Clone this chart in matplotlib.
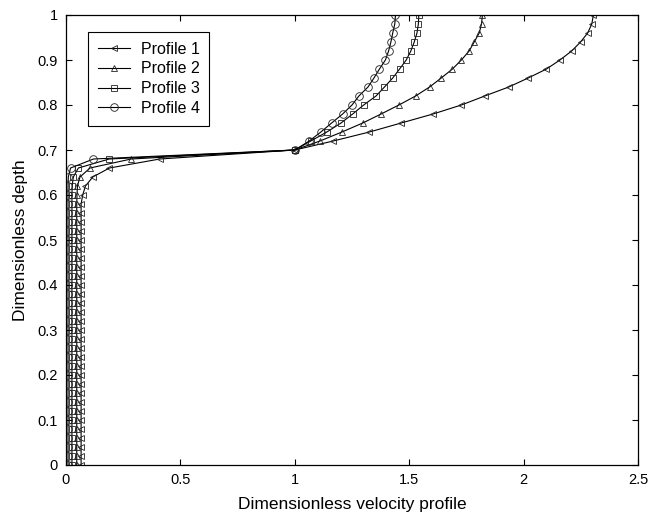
import numpy as np
import matplotlib
matplotlib.use("Agg")
from matplotlib import pyplot as plt

plt.rcParams['font.family'] = ['Liberation Sans', 'DejaVu Sans']

# depth grid, 0 to 1 in steps of 0.02
depth = [0.00, 0.02, 0.04, 0.06, 0.08, 0.10, 0.12, 0.14, 0.16, 0.18,
         0.20, 0.22, 0.24, 0.26, 0.28, 0.30, 0.32, 0.34, 0.36, 0.38,
         0.40, 0.42, 0.44, 0.46, 0.48, 0.50, 0.52, 0.54, 0.56, 0.58,
         0.60, 0.62, 0.64, 0.66, 0.68, 0.70,
         0.72, 0.74, 0.76, 0.78, 0.80, 0.82, 0.84, 0.86, 0.88, 0.90,
         0.92, 0.94, 0.96, 0.98, 1.00]

profile_1 = [0.066] * 30 + [0.073, 0.085, 0.117, 0.19, 0.41, 1.0,
             1.168, 1.326, 1.465, 1.604, 1.728, 1.83, 1.935, 2.02, 2.10,
             2.159, 2.21, 2.249, 2.28, 2.298, 2.305]
profile_2 = [0.047] * 30 + [0.048, 0.05, 0.061, 0.105, 0.285, 1.0,
             1.11, 1.206, 1.297, 1.377, 1.455, 1.528, 1.589, 1.64, 1.689,
             1.728, 1.762, 1.784, 1.806, 1.816, 1.82]
profile_3 = [0.026] * 30 + [0.026, 0.027, 0.032, 0.054, 0.189, 1.0,
             1.07, 1.14, 1.202, 1.253, 1.301, 1.355, 1.392, 1.428, 1.458,
             1.487, 1.507, 1.522, 1.534, 1.54, 1.542]
profile_4 = [0.009] * 30 + [0.009, 0.009, 0.01, 0.02, 0.12, 1.0,
             1.063, 1.114, 1.161, 1.209, 1.25, 1.28, 1.32, 1.346, 1.37,
             1.396, 1.41, 1.42, 1.428, 1.437, 1.44]

labels = ["Profile 1", "Profile 2", "Profile 3", "Profile 4"]
markers = ["<", "^", "s", "o"]
msizes = [4, 4, 5, 5.5]

x_ticks = [0, 0.5, 1, 1.5, 2, 2.5]
x_ticklabels = ["0", "0.5", "1", "1.5", "2", "2.5"]
y_ticks = [0, 0.1, 0.2, 0.3, 0.4, 0.5, 0.6, 0.7, 0.8, 0.9, 1]
y_ticklabels = ["0", "0.1", "0.2", "0.3", "0.4", "0.5", "0.6", "0.7", "0.8", "0.9", "1"]

fig = plt.figure(figsize=(6.61, 5.16), dpi=100)
ax = fig.add_axes([66/661, 1 - 465/516, 572/661, 450/516])

for xs, lab, mk, ms in zip([profile_1, profile_2, profile_3, profile_4], labels, markers, msizes):
	ax.plot(xs, depth, color="black", lw=0.8, marker=mk, markersize=ms,
		markerfacecolor="none", markeredgecolor="#222222", markeredgewidth=0.6,
		label=lab)

ax.set_xlim(0, 2.5)
ax.set_ylim(0, 1)
ax.set_xticks(x_ticks)
ax.set_xticklabels(x_ticklabels)
ax.set_yticks(y_ticks)
ax.set_yticklabels(y_ticklabels)
ax.tick_params(direction="in", top=True, right=True, length=4, width=0.8,
	labelsize=10.5, pad=6)
for sp in ax.spines.values():
	sp.set_linewidth(0.9)

ax.set_xlabel("Dimensionless velocity profile", fontsize=12.5, labelpad=7)
ax.set_ylabel("Dimensionless depth", fontsize=12.5, labelpad=7)

leg = ax.legend(loc="upper left", bbox_to_anchor=(0.0385, 0.962), borderaxespad=0,
	numpoints=1, fontsize=11.5, fancybox=False, edgecolor="black", framealpha=1,
	labelspacing=0.3, handlelength=2.0, handletextpad=0.7, borderpad=0.6)
leg.get_frame().set_linewidth(0.8)

fig.savefig("out.png", dpi=100)
